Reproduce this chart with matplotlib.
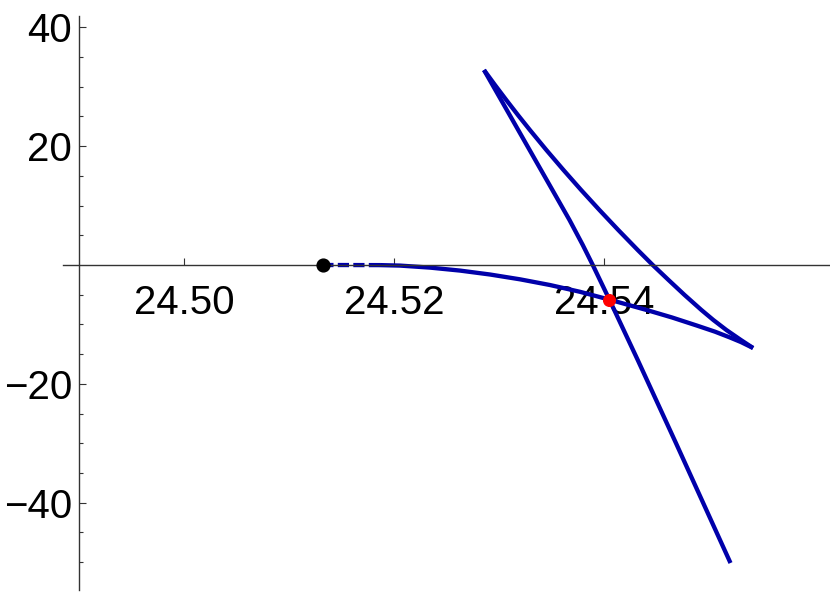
import numpy as np
import matplotlib
matplotlib.use('Agg')
import matplotlib.pyplot as plt

plt.rcParams['font.family'] = ['Liberation Sans', 'DejaVu Sans']

# near-straight branch, from the upper cusp down to its lower end
line_x = [24.528571, 24.530200, 24.531829, 24.533457, 24.535086, 24.536714,
          24.537976, 24.538929, 24.540529, 24.543214, 24.546848, 24.549319,
          24.552048]
line_y = [32.81, 27.77, 22.72, 17.67, 12.62, 7.57,
          3.37, 0.0, -5.89, -15.99, -29.95, -39.55,
          -50.15]

# upper cusp down to the right cusp
upper_x = [24.528571, 24.529616, 24.530692, 24.531801, 24.532941, 24.534511,
           24.536138, 24.537822, 24.539562, 24.541359, 24.543213, 24.544641,
           24.546143, 24.547676, 24.549276, 24.550419, 24.551657, 24.553038,
           24.554200]
upper_y = [32.81, 30.29, 27.77, 25.24, 22.72, 19.35,
           15.99, 12.62, 9.26, 5.89, 2.52, 0.0,
           -2.52, -5.05, -7.57, -9.26, -10.94, -12.62,
           -13.97]

# right cusp back towards the axis
lower_x = [24.554200, 24.553048, 24.552000, 24.550571, 24.548857, 24.546476,
           24.544095, 24.540476, 24.537714, 24.534857, 24.532000, 24.529143,
           24.526286, 24.523429, 24.520571, 24.518667]
lower_y = [-13.97, -12.97, -12.20, -11.22, -10.20, -8.83,
           -7.59, -5.81, -4.51, -3.37, -2.41, -1.60,
           -0.94, -0.44, -0.10, -0.02]

# dashed piece up to the start point
dash_x = [24.518667, 24.51324]
dash_y = [-0.02, 0.0]

start_pt = (24.51324, 0.0)
cross_pt = (24.54050, -5.81)

xticks = [24.50, 24.52, 24.54]
xlabels = ['24.50', '24.52', '24.54']
yticks = [-40, -20, 20, 40]
ylabels = ['\u221240', '\u221220', '20', '40']
yminor = [-50, -45, -35, -30, -25, -15, -10, -5, 5, 10, 15, 25, 30, 35]

blue = '#0000aa'
axcol = '#333333'

fig = plt.figure(figsize=(8.30, 5.94), dpi=100)
ax = fig.add_axes([63/830, 4/594, 767/830, 574/594])
ax.set_xlim(24.488476, 24.561524)
ax.set_ylim(-54.69, 41.90)

for s in ['top', 'right']:
    ax.spines[s].set_visible(False)
ax.spines['left'].set_position(('data', 24.49))
ax.spines['bottom'].set_position(('data', 0))
for s in ['left', 'bottom']:
    ax.spines[s].set_color(axcol)
    ax.spines[s].set_linewidth(1.0)

ax.set_xticks(xticks)
ax.set_xticklabels(xlabels)
ax.set_yticks(yticks)
ax.set_yticklabels(ylabels)
ax.set_yticks(yminor, minor=True)
ax.tick_params(axis='x', direction='in', length=5, width=0.8, color=axcol,
               labelsize=29, pad=13.5)
ax.tick_params(axis='y', which='major', direction='in', length=5, width=0.8,
               color=axcol, labelsize=29, pad=5)
ax.tick_params(axis='y', which='minor', direction='in', length=3.2, width=0.8,
               color=axcol)

kw = dict(color=blue, lw=3.1, solid_capstyle='butt', solid_joinstyle='round')
ax.plot(line_x, line_y, **kw)
ax.plot(upper_x, upper_y, **kw)
ax.plot(lower_x, lower_y, **kw)
ax.plot(dash_x, dash_y, color=blue, lw=3.1, linestyle=(0, (2.6, 1.0)),
        dash_capstyle='butt')

ax.plot(*start_pt, 'o', color='black', ms=9.2, zorder=5)
ax.plot(*cross_pt, 'o', color='red', ms=8.4, zorder=5)

fig.savefig('out.png', dpi=100)
